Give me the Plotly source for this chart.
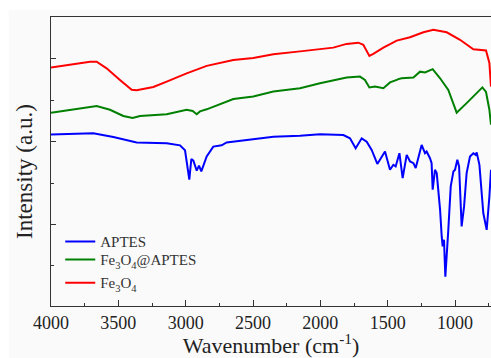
import plotly.graph_objects as go

# ---- data ----
wn_fe3o4 = [4000, 3710, 3661, 3587, 3488, 3401, 3364, 3240, 3141, 2993, 2844, 2646, 2498,
            2349, 2151, 2003, 1904, 1805, 1718, 1681, 1636, 1607, 1532, 1433, 1334, 1235,
            1161, 1062, 963, 864, 802, 770, 745, 733]
int_fe3o4 = [5.79, 5.93, 5.93, 5.77, 5.49, 5.25, 5.24, 5.32, 5.45, 5.65, 5.83, 5.97, 6.02,
             6.11, 6.18, 6.23, 6.27, 6.36, 6.39, 6.34, 6.07, 6.12, 6.27, 6.44, 6.52, 6.64,
             6.70, 6.64, 6.46, 6.23, 6.22, 6.20, 5.90, 5.33]

wn_fe3o4_aptes = [4000, 3661, 3562, 3463, 3394, 3339, 3141, 2993, 2948, 2918, 2894, 2844,
                  2646, 2498, 2349, 2151, 2003, 1805, 1706, 1669, 1636, 1594, 1532, 1483,
                  1433, 1421, 1396, 1309, 1260, 1223, 1166, 1111, 1050, 988, 914, 797, 770,
                  745, 733]
int_fe3o4_aptes = [4.70, 4.86, 4.77, 4.62, 4.57, 4.62, 4.66, 4.77, 4.74, 4.66, 4.73, 4.78,
                   5.03, 5.09, 5.21, 5.29, 5.41, 5.55, 5.57, 5.49, 5.31, 5.33, 5.29, 5.43,
                   5.49, 5.51, 5.53, 5.55, 5.69, 5.67, 5.75, 5.53, 5.25, 4.70, 4.93, 5.31,
                   5.20, 4.77, 4.41]

wn_aptes = [4000, 3686, 3537, 3438, 3364, 3141, 3042, 3005, 2988, 2973, 2958, 2943, 2918,
            2901, 2884, 2844, 2795, 2733, 2696, 2498, 2349, 2151, 2003, 1829, 1780, 1738,
            1693, 1656, 1619, 1577, 1520, 1483, 1458, 1441, 1413, 1389, 1359, 1334, 1309,
            1292, 1248, 1223, 1211, 1186, 1174, 1166, 1149, 1136, 1111, 1099, 1092, 1082,
            1072, 1050, 1032, 1012, 1000, 983, 970, 951, 933, 914, 889, 864, 847, 839, 819,
            790, 765, 745, 733]
int_aptes = [4.17, 4.20, 4.11, 4.03, 3.98, 3.96, 3.91, 3.79, 3.40, 3.08, 3.58, 3.54, 3.30,
             3.42, 3.28, 3.64, 3.88, 3.91, 3.98, 4.06, 4.12, 4.14, 4.18, 4.16, 4.08, 3.84,
             4.08, 4.00, 3.80, 3.46, 3.76, 3.32, 3.44, 3.40, 3.72, 3.12, 3.68, 3.52, 3.48,
             3.36, 3.92, 3.72, 3.76, 3.60, 3.48, 2.84, 3.32, 3.24, 2.35, 1.71, 1.47, 1.63,
             0.74, 1.87, 2.92, 3.28, 3.32, 3.56, 3.40, 1.95, 2.43, 3.24, 3.64, 3.72, 3.68,
             3.74, 3.44, 2.27, 1.87, 2.67, 3.32]

series = [
    ("APTES", wn_aptes, int_aptes, "#0000ff", "legend", 0.222),
    ("Fe<sub>3</sub>O<sub>4</sub>@APTES", wn_fe3o4_aptes, int_fe3o4_aptes, "#008000", "legend2", 0.160),
    ("Fe<sub>3</sub>O<sub>4</sub>", wn_fe3o4, int_fe3o4, "#ff0000", "legend3", 0.080),
]

FONT = "Liberation Serif"
AX = "#333333"
TXT = "#222222"

fig = go.Figure()
legends = {}
for name, x, y, c, lg, ly in series:
    fig.add_trace(go.Scatter(x=x, y=y, mode="lines", name=name, legend=lg,
                             line=dict(color=c, width=2)))
    legends[lg] = dict(x=0.021, y=ly, xanchor="left", yanchor="middle",
                       bgcolor="rgba(0,0,0,0)",
                       font=dict(family=FONT, size=15, color="#333333"),
                       itemwidth=30)

fig.update_layout(
    width=491, height=358,
    margin=dict(l=51, r=0, t=17, b=52),
    paper_bgcolor="white",
    plot_bgcolor="#fafafa",
    font=dict(family=FONT, color=TXT),
    showlegend=True,
    shapes=[dict(type="rect", xref="paper", yref="paper", x0=-0.096, x1=1.0,
                 y0=-0.18, y1=1.024, fillcolor="#fafafa", line=dict(width=0),
                 layer="below")],
    annotations=[dict(text="Intensity (a.u.)", textangle=-90, xref="paper", yref="paper",
                      x=-0.059, y=0.464, xanchor="center", yanchor="middle",
                      showarrow=False, font=dict(family=FONT, size=23, color=TXT))],
    **legends,
)

fig.update_xaxes(
    range=[4000, 733], tickmode="linear", tick0=1000, dtick=500,
    ticks="inside", ticklen=6, tickwidth=1, tickcolor=AX,
    minor=dict(dtick=250, tick0=1000, ticks="inside", ticklen=3, tickwidth=1, tickcolor=AX),
    showline=True, linecolor=AX, linewidth=1.2, mirror=True,
    showgrid=False, zeroline=False,
    tickfont=dict(family=FONT, size=18, color=TXT),
    title=dict(text="Wavenumber (cm<sup>-1</sup>)", font=dict(family=FONT, size=22, color=TXT),
               standoff=4),
)
fig.update_yaxes(
    range=[0.03, 7.01], tickmode="linear", tick0=0, dtick=2,
    ticks="inside", ticklen=5, tickwidth=1, tickcolor=AX,
    minor=dict(dtick=1, tick0=0, ticks="inside", ticklen=3, tickwidth=1, tickcolor=AX),
    showticklabels=False,
    showline=True, linecolor=AX, linewidth=1.2, mirror=True,
    showgrid=False, zeroline=False,
)

fig.write_html("out.html")
